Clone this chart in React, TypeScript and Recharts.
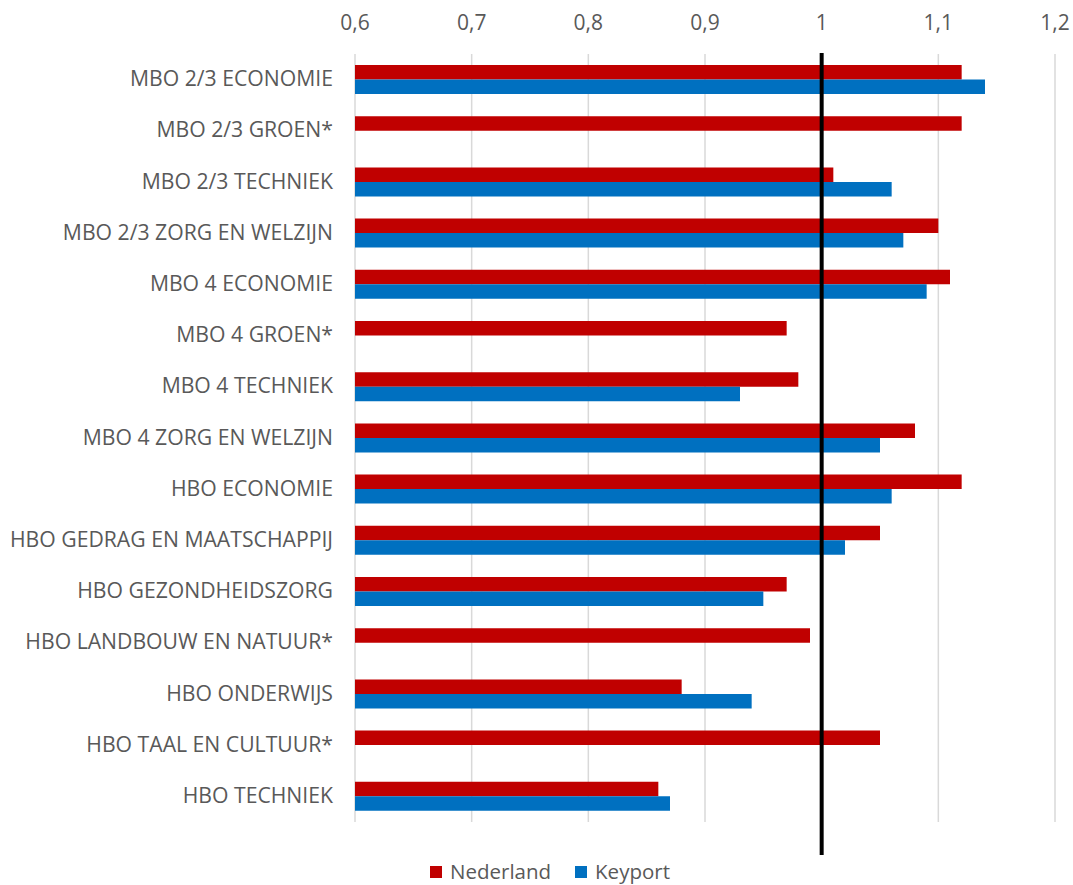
import React from 'react';
import { BarChart, Bar, XAxis, YAxis, CartesianGrid, ReferenceLine, Legend } from 'recharts';

const categories = [
  'MBO 2/3 ECONOMIE',
  'MBO 2/3 GROEN*',
  'MBO 2/3 TECHNIEK',
  'MBO 2/3 ZORG EN WELZIJN',
  'MBO 4 ECONOMIE',
  'MBO 4 GROEN*',
  'MBO 4 TECHNIEK',
  'MBO 4 ZORG EN WELZIJN',
  'HBO ECONOMIE',
  'HBO GEDRAG EN MAATSCHAPPIJ',
  'HBO GEZONDHEIDSZORG',
  'HBO LANDBOUW EN NATUUR*',
  'HBO ONDERWIJS',
  'HBO TAAL EN CULTUUR*',
  'HBO TECHNIEK',
];

const nederland = [1.12, 1.12, 1.01, 1.10, 1.11, 0.97, 0.98, 1.08, 1.12, 1.05, 0.97, 0.99, 0.88, 1.05, 0.86];
const keyport: (number | null)[] = [1.14, null, 1.06, 1.07, 1.09, null, 0.93, 1.05, 1.06, 1.02, 0.95, null, 0.94, null, 0.87];

const xTicks = [0.6, 0.7, 0.8, 0.9, 1, 1.1, 1.2];

const seriesNames = ['Nederland', 'Keyport'];
const seriesColors = ['#C00000', '#0070C0'];

const data = categories.map((name, i) => ({
  name,
  Nederland: nederland[i],
  Keyport: keyport[i],
}));

const FONT = '"Open Sans", sans-serif';
const TEXT = '#595959';

const ExtendedLine = (props: any) => {
  const { x1, y1, x2, y2 } = props;
  return <line x1={x1} y1={y1 - 1} x2={x2} y2={y2 + 33} stroke="#000" strokeWidth={4} />;
};

const LegendContent = () => (
  <div
    style={{
      height: 30,
      display: 'flex',
      alignItems: 'center',
      paddingLeft: 430,
      paddingTop: 3,
      boxSizing: 'border-box',
      fontFamily: FONT,
      fontSize: 20.5,
      color: TEXT,
      lineHeight: '27px',
    }}
  >
    {seriesNames.map((n, i) => (
      <div key={n} style={{ display: 'flex', alignItems: 'center', marginRight: 24 }}>
        <span style={{ display: 'inline-block', width: 12, height: 12, background: seriesColors[i], marginRight: 8 }} />
        <span>{n}</span>
      </div>
    ))}
  </div>
);

export default function App() {
  return (
    <div style={{ position: 'absolute', left: 0, top: 0, width: 1073, height: 885, background: '#fff' }}>
      <BarChart
        width={1073}
        height={885}
        data={data}
        layout="vertical"
        margin={{ top: 0, right: 18, left: 0, bottom: 33 }}
        barGap={0}
        barSize={14.5}
      >
        <CartesianGrid horizontal={false} stroke="#d9d9d9" strokeWidth={1.5} />
        <XAxis
          type="number"
          orientation="top"
          domain={[0.6, 1.2]}
          ticks={xTicks}
          allowDataOverflow
          height={54}
          axisLine={false}
          tickLine={false}
          tickSize={0}
          tickMargin={24}
          tickFormatter={(v: number) => String(v).replace('.', ',')}
          tick={{ fill: TEXT, fontSize: 21, fontFamily: FONT }}
        />
        <YAxis
          type="category"
          dataKey="name"
          width={355}
          axisLine={false}
          tickLine={false}
          tickSize={0}
          tickMargin={22}
          interval={0}
          tick={{ fill: TEXT, fontSize: 21.2, fontFamily: FONT, dy: -1 }}
        />
        <Bar dataKey="Nederland" fill="#C00000" isAnimationActive={false} />
        <Bar dataKey="Keyport" fill="#0070C0" isAnimationActive={false} />
        <ReferenceLine x={1} stroke="#000" strokeWidth={4} shape={ExtendedLine} />
        <Legend
          verticalAlign="bottom"
          content={LegendContent}
          wrapperStyle={{ bottom: 0, left: 0, width: 1073 }}
        />
      </BarChart>
    </div>
  );
}
